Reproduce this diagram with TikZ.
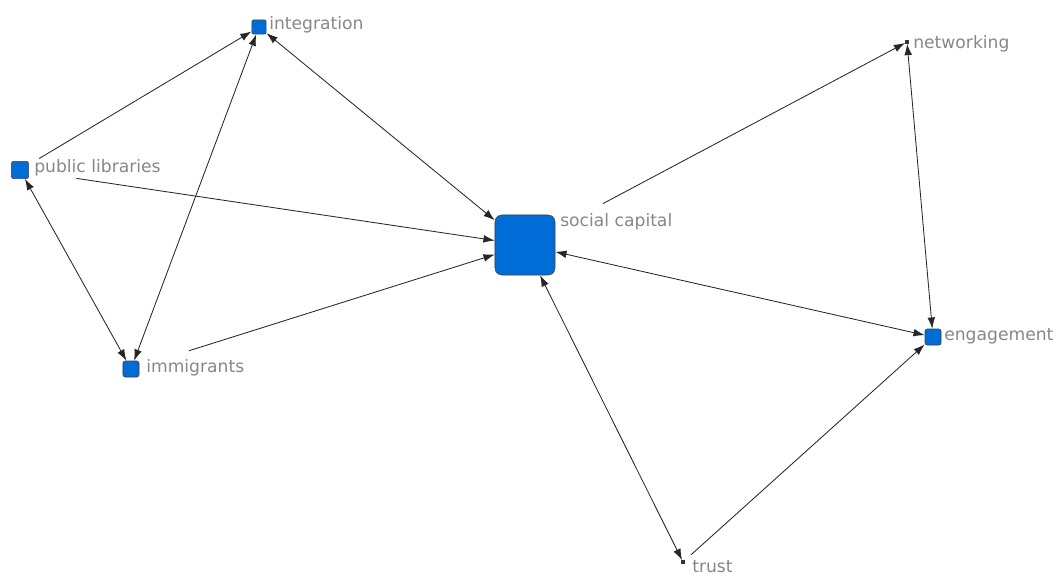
\documentclass[tikz,border=0pt]{standalone}
\usepackage{fontspec}
\setmainfont{DejaVu Sans}
\usepackage{xcolor}
\usetikzlibrary{arrows.meta}
\definecolor{nodeblue}{RGB}{0,108,214}
\definecolor{labelgray}{RGB}{135,135,135}

\begin{document}
\begin{tikzpicture}[x=0.025cm,y=-0.025cm,
	>={Latex[length=8pt,width=5.5pt]},
	actor/.style={draw=black!75,fill=nodeblue,rounded corners=1.5pt,inner sep=0pt,minimum size=0.4cm},
	dot/.style={fill=black!80,inner sep=0pt,minimum size=0.08cm},
	tag/.style={anchor=west,text=labelgray,font=\fontsize{12.2}{14}\selectfont,inner sep=0pt},
	tie/.style={black!85,line width=0.6pt}
]
\useasboundingbox (0,0) rectangle (1064,578);
%
\node[actor,minimum size=0.36cm] (integ) at (259,27) {};
\node[actor,minimum size=0.43cm] (publib) at (20,170) {};
\node[actor] (immig) at (131,369) {};
\node[actor,minimum size=1.5cm,rounded corners=5pt] (soccap) at (525,245) {};
\node[dot] (netw) at (907,42) {};
\node[actor] (engag) at (933,337) {};
\node[dot] (trust) at (683,562) {};
%
\node[tag] (integlab) at (269,25) {integration};
\node[tag] (publiblab) at (34,168) {public libraries};
\node[tag] (immiglab) at (146,368) {immigrants};
\node[tag] (soccaplab) at (560,222) {social capital};
\node[tag] (netwlab) at (913,44) {networking};
\node[tag] (engaglab) at (944,336) {engagement};
\node[tag] (trustlab) at (692,567) {trust};
%
\draw[tie,->,shorten <=0.3cm] (publib) -- (integ);
\draw[tie,->,shorten <=1.2cm] (publib) -- (soccap);
\draw[tie,<->] (publib) -- (immig);
\draw[tie,<->] (immig) -- (integ);
\draw[tie,->,shorten <=1.3cm] (immig) -- (soccap);
\draw[tie,<->] (soccap) -- (integ);
\draw[tie,->,shorten <=1.35cm] (soccap) -- (netw);
\draw[tie,<->] (netw) -- (engag);
\draw[tie,<->] (engag) -- (soccap);
\draw[tie,<->] (soccap) -- (trust);
\draw[tie,->,shorten <=0.2cm] (trust) -- (engag);
\end{tikzpicture}
\end{document}
